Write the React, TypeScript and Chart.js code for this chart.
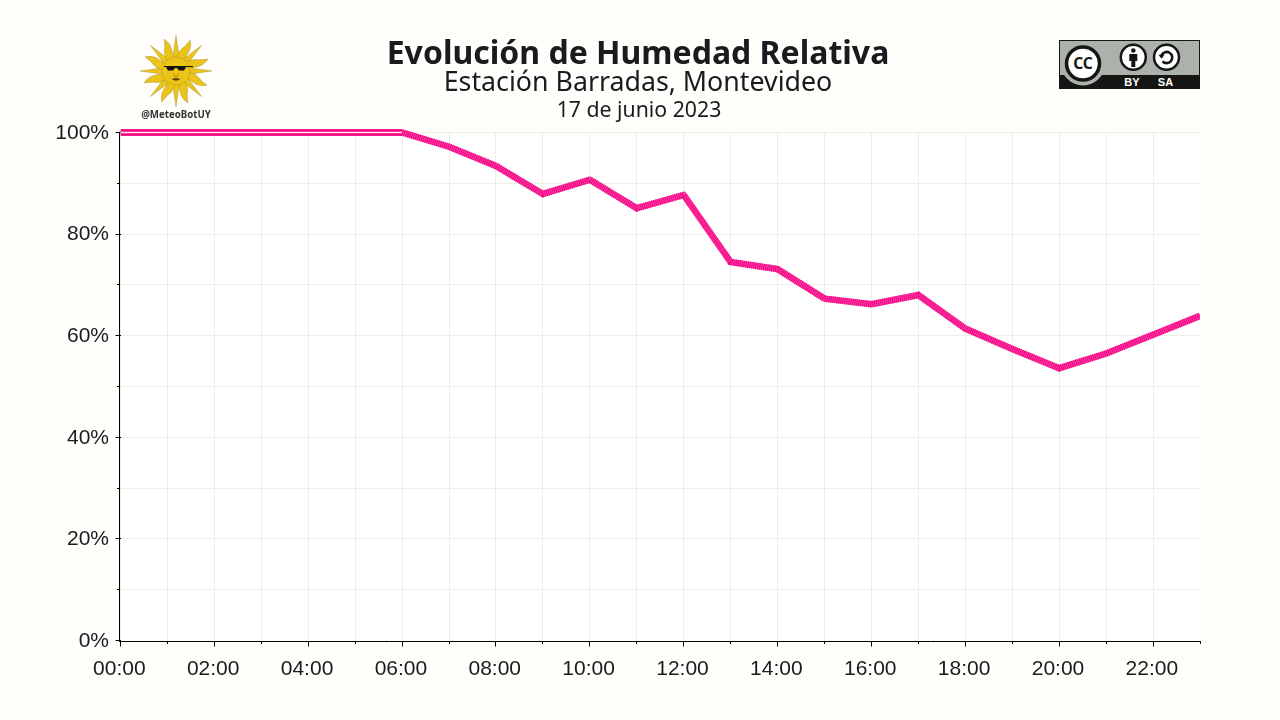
import { useEffect, useRef } from 'react';
import { Chart, registerables } from 'chart.js';

Chart.register(...registerables);

const PAGE_BG = '#fffefa';
const INK = '#1a1a1f';
const GRID = '#eeeee8';

const hours = [
	'00:00', '01:00', '02:00', '03:00', '04:00', '05:00', '06:00', '07:00',
	'08:00', '09:00', '10:00', '11:00', '12:00', '13:00', '14:00', '15:00',
	'16:00', '17:00', '18:00', '19:00', '20:00', '21:00', '22:00', '23:00',
];
const humidity = [
	100, 100, 100, 100, 100, 100, 100, 97.2, 93.4, 87.9, 90.7, 85.1,
	87.7, 74.5, 73.1, 67.3, 66.2, 68.0, 61.4, 57.4, 53.6, 56.5, 60.2, 63.9,
];
// tramo saturado: la línea se ve con el centro claro
const saturated = humidity.map((v, i) => (i <= 6 ? v : null));

const plotBackground = {
	id: 'plotBackground',
	beforeDraw(chart: Chart) {
		const { ctx, chartArea: a } = chart;
		ctx.save();
		ctx.fillStyle = '#ffffff';
		ctx.fillRect(a.left, a.top, a.right - a.left, a.bottom - a.top);
		ctx.restore();
	},
};

// ejes un pixel por fuera del área, y marcas menores más cortas
const axisLines = {
	id: 'axisLines',
	afterDraw(chart: Chart) {
		const { ctx, scales, chartArea: a } = chart;
		ctx.save();
		ctx.strokeStyle = '#000';
		ctx.lineWidth = 1;
		ctx.beginPath();
		ctx.moveTo(a.left - 1, a.top);
		ctx.lineTo(a.left - 1, a.bottom + 1.5);
		ctx.moveTo(a.left - 1.5, a.bottom + 1);
		ctx.lineTo(a.right + 1, a.bottom + 1);
		scales.x.ticks.forEach((_, i) => {
			if (i % 2 === 0) return;
			const x = Math.round(scales.x.getPixelForTick(i) - 0.5) + 0.5;
			ctx.moveTo(x, a.bottom + 1.5);
			ctx.lineTo(x, a.bottom + 3.5);
		});
		scales.y.ticks.forEach((_, i) => {
			if (i % 2 === 0) return;
			const y = Math.round(scales.y.getPixelForTick(i) - 0.5) + 0.5;
			ctx.moveTo(a.left - 1.5, y);
			ctx.lineTo(a.left - 3.5, y);
		});
		ctx.stroke();
		ctx.restore();
	},
};

function SunLogo() {
	const rays = Array.from({ length: 16 }, (_, i) => i * 22.5);
	return (
		<svg
			width="90"
			height="90"
			viewBox="-45 -45 90 90"
			style={{ position: 'absolute', left: 131, top: 26 }}
		>
			{rays.map((a, i) => (
				<path
					key={a}
					transform={`rotate(${a})`}
					d={
						i % 2 === 0
							? 'M-3.6 -11 L0 -36 L3.6 -11 Z'
							: 'M-3.6 -11 C-5.2 -17 -4 -22 -1.8 -25 C-0.4 -28 0.6 -31 1.2 -34 C4.2 -30 5.2 -25 4 -20 C3 -17 3.6 -14 3.6 -11 Z'
					}
					fill="#ecc417"
					stroke="#8a7a30"
					strokeWidth="0.35"
				/>
			))}
			<circle r="14" fill="#eec416" stroke="#a08a20" strokeWidth="0.4" />
			<path d="M-12 -5 H17 V-4 H10 L8 -0.5 H3 L1 -3 H-1 L-3 -0.5 H-8 L-10 -4 H-12 Z" fill="#111" />
			<path d="M-2.5 2 L-1 5.5 H1 L2.5 2" fill="none" stroke="#8a6d10" strokeWidth="0.6" />
			<path d="M-4.5 8 Q0 6 4.5 8 Q0 11.5 -4.5 8 Z" fill="#5e4a10" />
		</svg>
	);
}

function CcBadge() {
	return (
		<svg
			width="141"
			height="49"
			viewBox="0 0 141 49"
			style={{ position: 'absolute', left: 1059, top: 40 }}
		>
			<rect x="0.5" y="0.5" width="140" height="48" fill="#aab2ab" stroke="#151614" />
			<rect x="0" y="35" width="141" height="14" fill="#151614" />
			<circle cx="24" cy="23.5" r="22" fill="#aab2ab" />
			<circle cx="24" cy="23.5" r="16.5" fill="#fff" stroke="#151614" strokeWidth="3.5" />
			<text x="24" y="29" textAnchor="middle" fontFamily="Noto Sans" fontWeight="700" fontSize="15.5" fill="#151614">
				CC
			</text>
			<circle cx="74.3" cy="17.3" r="12.5" fill="#fff" stroke="#151614" strokeWidth="2.5" />
			<circle cx="74.3" cy="10.5" r="2.3" fill="#151614" />
			<path d="M70.3 14 H78.3 V21 H76.3 V27 H72.3 V21 H70.3 Z" fill="#151614" />
			<circle cx="107.5" cy="17.3" r="12.5" fill="#fff" stroke="#151614" strokeWidth="2.5" />
			<path d="M102.5 15.3 A5.6 5.6 0 1 1 103.5 21.3" fill="none" stroke="#151614" strokeWidth="2.6" />
			<path d="M99.5 14.8 H105.5 L102.5 18.8 Z" fill="#151614" />
			<text x="73" y="46" textAnchor="middle" fontFamily="Liberation Sans" fontWeight="700" fontSize="11" fill="#fff">
				BY
			</text>
			<text x="106.5" y="46" textAnchor="middle" fontFamily="Liberation Sans" fontWeight="700" fontSize="11" fill="#fff">
				SA
			</text>
		</svg>
	);
}

const headerLine = (top: number, size: number, weight: number, left = 0): React.CSSProperties => ({
	position: 'absolute',
	left,
	width: 1276,
	top,
	textAlign: 'center',
	fontFamily: '"Noto Sans"',
	fontSize: size,
	fontWeight: weight,
	lineHeight: '40px',
	color: INK,
	whiteSpace: 'nowrap',
});

export default function App() {
	const canvasRef = useRef<HTMLCanvasElement>(null);
	const chartRef = useRef<Chart | null>(null);

	useEffect(() => {
		document.body.style.margin = '0';
		document.body.style.background = PAGE_BG;
		if (!canvasRef.current) return;

		const tickFont = { family: '"Liberation Sans"', size: 21 };
		const overflow = { left: 0, top: 8, right: 0, bottom: 0 };

		chartRef.current = new Chart(canvasRef.current, {
			type: 'line',
			data: {
				labels: hours,
				datasets: [
					{
						data: saturated,
						borderColor: '#ffe6f1',
						borderWidth: 1.6,
						pointRadius: 0,
						clip: overflow,
						order: 0,
					},
					{
						data: humidity,
						borderColor: '#f0047f',
						borderWidth: 6.5,
						pointRadius: 0,
						borderJoinStyle: 'miter',
						clip: overflow,
						segment: {
							borderDash: (ctx) => (ctx.p1DataIndex <= 6 ? [] : [1, 1]),
						},
						order: 1,
					},
					{
						data: humidity,
						borderColor: '#ff3ca6',
						borderWidth: 6.5,
						pointRadius: 0,
						borderJoinStyle: 'miter',
						clip: overflow,
						order: 2,
					},
				],
			},
			options: {
				responsive: false,
				animation: false,
				layout: { padding: { top: 132.5, right: 80, left: 0, bottom: 0 } },
				plugins: {
					legend: { display: false },
					title: { display: false },
					tooltip: { enabled: false },
				},
				scales: {
					x: {
						afterFit: (scale) => {
							scale.height = 79.5;
						},
						grid: {
							color: (ctx) => (ctx.index === hours.length - 1 ? 'transparent' : GRID),
							tickLength: 6,
							tickColor: (ctx) => (ctx.index % 2 === 0 ? '#000' : 'transparent'),
						},
						border: { display: false },
						ticks: {
							autoSkip: false,
							maxRotation: 0,
							color: INK,
							font: tickFont,
							padding: 10.5,
							labelOffset: -1.2,
							callback: (_, i) => (i % 2 === 0 ? hours[i] : ''),
						},
					},
					y: {
						min: 0,
						max: 100,
						afterFit: (scale) => {
							scale.width = 120.5;
						},
						grid: {
							color: (ctx) => (ctx.index === 0 ? 'transparent' : GRID),
							tickLength: 5,
							tickColor: (ctx) => (ctx.index % 2 === 0 ? '#000' : 'transparent'),
						},
						border: { display: false },
						ticks: {
							stepSize: 10,
							color: INK,
							font: tickFont,
							padding: 6.5,
							labelOffset: 0.5,
							callback: (v) => (Number(v) % 20 === 0 ? `${v}%` : ''),
						},
					},
				},
			},
			plugins: [plotBackground, axisLines],
		});

		return () => {
			if (chartRef.current) {
				chartRef.current.destroy();
			}
		};
	}, []);

	return (
		<div style={{ position: 'relative', width: 1280, height: 720, background: PAGE_BG, overflow: 'hidden' }}>
			<canvas ref={canvasRef} width={1280} height={720} style={{ display: 'block' }}></canvas>
			<div style={headerLine(32, 32, 700)}>Evolución de Humedad Relativa</div>
			<div style={headerLine(61, 26.75, 400)}>Estación Barradas, Montevideo</div>
			<div style={headerLine(89, 21.25, 400, 1)}>17 de junio 2023</div>
			<SunLogo />
			<div
				style={{
					position: 'absolute',
					left: 126,
					width: 100,
					top: 108,
					textAlign: 'center',
					fontFamily: '"Noto Sans"',
					fontWeight: 700,
					fontSize: 9.7,
					lineHeight: '14px',
					color: '#333',
				}}
			>
				@MeteoBotUY
			</div>
			<CcBadge />
		</div>
	);
}
